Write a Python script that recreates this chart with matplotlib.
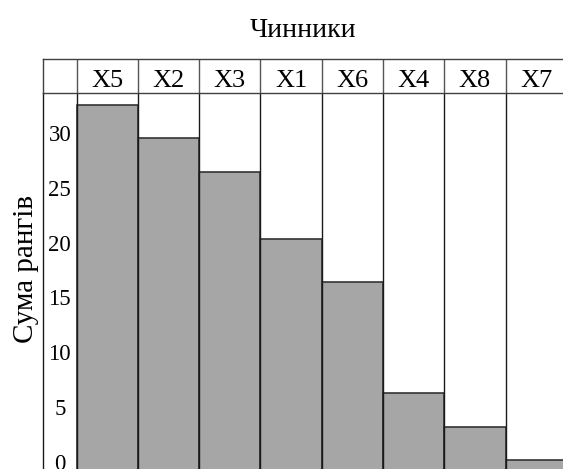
import matplotlib
matplotlib.use("Agg")
import matplotlib.pyplot as plt

# ---- data ----
categories = ["X5", "X2", "X3", "X1", "X6", "X4", "X8", "X7"]
rank_sums = [32.8, 29.8, 26.7, 20.6, 16.6, 6.5, 3.4, 0.4]
y_ticks = [0, 5, 10, 15, 20, 25, 30]
title_text = "Чинники"
ylabel_text = "Сума рангів"

plt.rcParams['font.family'] = ['Liberation Serif', 'DejaVu Serif']

W, H = 563, 469
fig = plt.figure(figsize=(W / 100, H / 100), dpi=100)

def fx(px):
    return px / W

def fy(py):
    return 1 - py / H

left_px, right_px = 43, 563
top_px, head_bot_px, bot_px = 59, 93, 469
zero_px, px_per_unit = 464, 10.94

xl = (-0.047, 8.436)
ylo = -(bot_px - zero_px) / px_per_unit
yhi = (zero_px - head_bot_px) / px_per_unit
base = ylo - 1.0  # bars continue below the visible bottom edge

bar_color = '#a6a6a6'
line_color = '#1a1a1a'

# main axes
ax = fig.add_axes([fx(left_px), fy(bot_px), fx(right_px) - fx(left_px), fy(head_bot_px) - fy(bot_px)])
xs = list(range(1, len(categories) + 1))
ax.bar(xs, [v - base for v in rank_sums], bottom=base, width=1.0, color=bar_color,
       edgecolor='#333333', linewidth=1.2, zorder=2)
for b in [i + 0.5 for i in range(0, len(categories))]:
    ax.axvline(b, color=line_color, lw=1.0, zorder=3)
ax.set_xlim(*xl)
ax.set_ylim(ylo, yhi)
ax.set_xticks([])
ax.set_yticks([])
for s in ['top', 'right', 'bottom']:
    ax.spines[s].set_visible(False)
ax.spines['left'].set_color(line_color)
ax.spines['left'].set_linewidth(1.0)
ax.patch.set_alpha(0)
xc = (xl[0] + 0.5) / 2
for t in y_ticks:
    ax.text(xc, t, str(t), ha='center', va='center', fontsize=16.5)

# header axes
hx = fig.add_axes([fx(left_px), fy(head_bot_px), fx(right_px) - fx(left_px), fy(top_px) - fy(head_bot_px)])
hx.set_xlim(*xl)
hx.set_ylim(0, 1)
hx.set_xticks([])
hx.set_yticks([])
hx.spines['right'].set_visible(False)
for s in ['top', 'left', 'bottom']:
    hx.spines[s].set_color('#404040')
    hx.spines[s].set_linewidth(1.0)
for b in [i + 0.5 for i in range(0, len(categories))]:
    hx.axvline(b, color='#555555', lw=1.0)
for x, c in zip(xs, categories):
    hx.text(x, 0.17, c, ha='center', va='baseline', fontsize=19)

fig.text(fx(303), fy(37), title_text, ha='center', va='baseline', fontsize=20)
fig.text(fx(33), fy(269), ylabel_text, rotation=90, rotation_mode='anchor',
         ha='center', va='baseline', fontsize=21)

fig.savefig('out.png', dpi=100)
